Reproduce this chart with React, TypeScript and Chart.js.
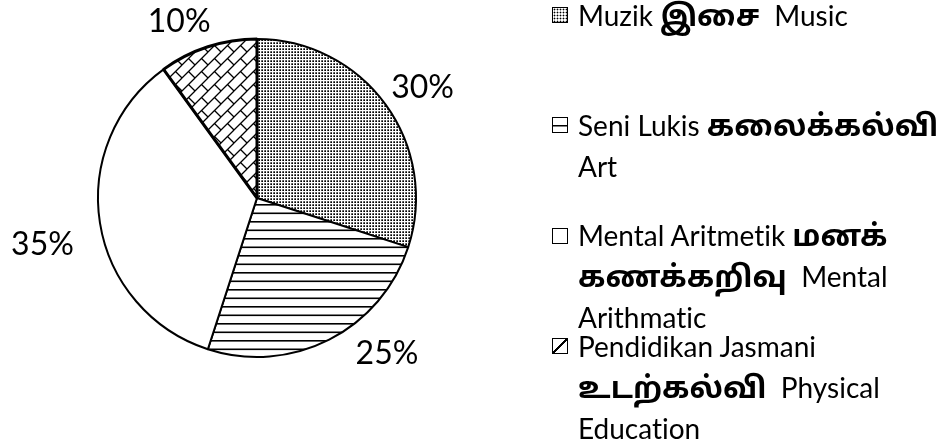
import React, { useEffect, useRef } from 'react';
import { Chart, registerables } from 'chart.js';

Chart.register(...registerables);

// ---- data ----
const categories = ['Muzik', 'Seni Lukis', 'Mental Aritmetik', 'Pendidikan Jasmani'];
const values = [30, 25, 35, 10];
const fillKinds = ['dots', 'hlines', 'plain', 'brick'];
const legendText = [
  ['Muzik இசை  Music'],
  ['Seni Lukis கலைக்கல்வி', 'Art'],
  ['Mental Aritmetik மனக்', 'கணக்கறிவு  Mental', 'Arithmatic'],
  ['Pendidikan Jasmani', 'உடற்கல்வி  Physical', 'Education'],
];

// ---- style ----
const LABEL_FONT = '32px Lato';
const LABEL_NUDGE: [number, number][] = [
  [36.9, -18.5],
  [57.8, 12.8],
  [-57.5, 21.1],
  [-28.7, -25.8],
];
const LEGEND_LEFT = 552;
const LEGEND_FIRST = 15;
const LEGEND_PITCH = 110.4;
const LH = 41;
const TEXT_FONT = 'Lato, "Open Sans", sans-serif';
const TAMIL_FONT = '"Noto Sans Tamil", "Noto Sans Tamil UI", "Lohit Tamil", Latha, sans-serif';

function makePattern(kind: string): CanvasPattern | string {
  if (kind === 'plain') return '#ffffff';
  const c = document.createElement('canvas');
  const ctx = c.getContext('2d')!;
  if (kind === 'dots') {
    c.width = 3; c.height = 3;
    ctx.fillStyle = '#fff'; ctx.fillRect(0, 0, 3, 3);
    ctx.fillStyle = '#000'; ctx.fillRect(0.3, 0.3, 1.7, 1.7);
  } else if (kind === 'hlines') {
    c.width = 4; c.height = 17;
    ctx.fillStyle = '#fff'; ctx.fillRect(0, 0, 4, 17);
    ctx.fillStyle = '#000';
    ctx.fillRect(0, 0, 4, 1.6);
    ctx.fillRect(0, 8.5, 4, 1.6);
  } else if (kind === 'brick') {
    const s = 13;
    c.width = s; c.height = s;
    ctx.fillStyle = '#fff'; ctx.fillRect(0, 0, s, s);
    ctx.strokeStyle = '#000'; ctx.lineWidth = 1.3;
    for (const ox of [-s, 0, s]) {
      for (const oy of [-s, 0, s]) {
        ctx.beginPath();
        ctx.moveTo(ox, oy + s); ctx.lineTo(ox + s, oy);
        ctx.moveTo(ox + s / 2, oy + s / 2); ctx.lineTo(ox + s, oy + s);
        ctx.stroke();
      }
    }
  }
  return ctx.createPattern(c, 'repeat')!;
}

const labelPlugin = {
  id: 'pctLabels',
  afterDatasetsDraw(chart: any) {
    const meta = chart.getDatasetMeta(0);
    const data = chart.data.datasets[0].data as number[];
    const total = data.reduce((a, b) => a + b, 0);
    const ctx = chart.ctx as CanvasRenderingContext2D;
    ctx.save();
    ctx.font = LABEL_FONT;
    ctx.fillStyle = '#000';
    ctx.textAlign = 'center';
    ctx.textBaseline = 'alphabetic';
    meta.data.forEach((arc: any, i: number) => {
      const p = arc.getProps(['x', 'y', 'startAngle', 'endAngle', 'outerRadius'], true);
      const mid = (p.startAngle + p.endAngle) / 2;
      const ox = p.x + Math.cos(mid) * p.outerRadius;
      const oy = p.y + Math.sin(mid) * p.outerRadius;
      const [dx, dy] = LABEL_NUDGE[i];
      ctx.fillText(Math.round((data[i] / total) * 100) + '%', ox + dx, oy + dy + 11.5);
    });
    ctx.restore();
  },
};

function iconStyle(kind: string): React.CSSProperties {
  const base: React.CSSProperties = {
    position: 'absolute',
    left: 0,
    top: LH / 2 - 8,
    width: 14,
    height: 14,
    border: '1.5px solid #000',
    background: '#fff',
  };
  if (kind === 'dots') {
    base.background = 'radial-gradient(circle, #000 0.8px, transparent 1.1px) 0 0 / 3px 3px, #fff';
  } else if (kind === 'hlines') {
    base.background = 'linear-gradient(#000,#000) center / 100% 1.5px no-repeat, #fff';
  } else if (kind === 'brick') {
    base.background =
      'linear-gradient(to bottom right, transparent calc(50% - 0.8px), #000 calc(50% - 0.8px), #000 calc(50% + 0.8px), transparent calc(50% + 0.8px)), #fff';
  }
  return base;
}

function renderLine(line: string, key: number) {
  const parts = line.split(/([\u0B80-\u0BFF]+)/).filter((s) => s.length > 0);
  return (
    <div key={key} style={{ height: LH, lineHeight: LH + 'px', whiteSpace: 'pre' }}>
      {parts.map((p, j) =>
        /[\u0B80-\u0BFF]/.test(p) ? (
          <span key={j} style={{ fontFamily: TAMIL_FONT, fontWeight: 700, fontSize: 30 }}>
            {p}
          </span>
        ) : (
          <span key={j}>{p}</span>
        )
      )}
    </div>
  );
}

export default function App() {
  const ref = useRef<HTMLCanvasElement>(null);
  useEffect(() => {
    const canvas = ref.current!;
    const chart = new Chart(canvas, {
      type: 'pie',
      data: {
        labels: categories,
        datasets: [
          {
            data: values,
            backgroundColor: fillKinds.map(makePattern) as any,
            borderColor: '#000',
            borderWidth: [2, 2, 2, 3],
            radius: 159,
          } as any,
        ],
      },
      options: {
        responsive: false,
        animation: false,
        events: [],
        layout: { padding: { left: 90, right: 523, top: 30, bottom: 82 } },
        plugins: { legend: { display: false }, tooltip: { enabled: false } },
      },
      plugins: [labelPlugin],
    });
    return () => chart.destroy();
  }, []);

  return (
    <div style={{ position: 'fixed', left: 0, top: 0, width: 947, height: 448, background: '#fff', overflow: 'hidden' }}>
      <canvas ref={ref} width={947} height={448} style={{ position: 'absolute', left: 0, top: 0, width: 947, height: 448 }} />
      {legendText.map((lines, i) => (
        <div
          key={i}
          style={{
            position: 'absolute',
            left: LEGEND_LEFT,
            top: LEGEND_FIRST + i * LEGEND_PITCH - LH / 2,
            fontFamily: TEXT_FONT,
            fontSize: 28,
            color: '#000',
            fontVariantLigatures: 'none',
            fontFeatureSettings: '"liga" 0, "clig" 0',
          }}
        >
          <div style={iconStyle(fillKinds[i])} />
          <div style={{ marginLeft: 26 }}>{lines.map((l, k) => renderLine(l, k))}</div>
        </div>
      ))}
    </div>
  );
}
